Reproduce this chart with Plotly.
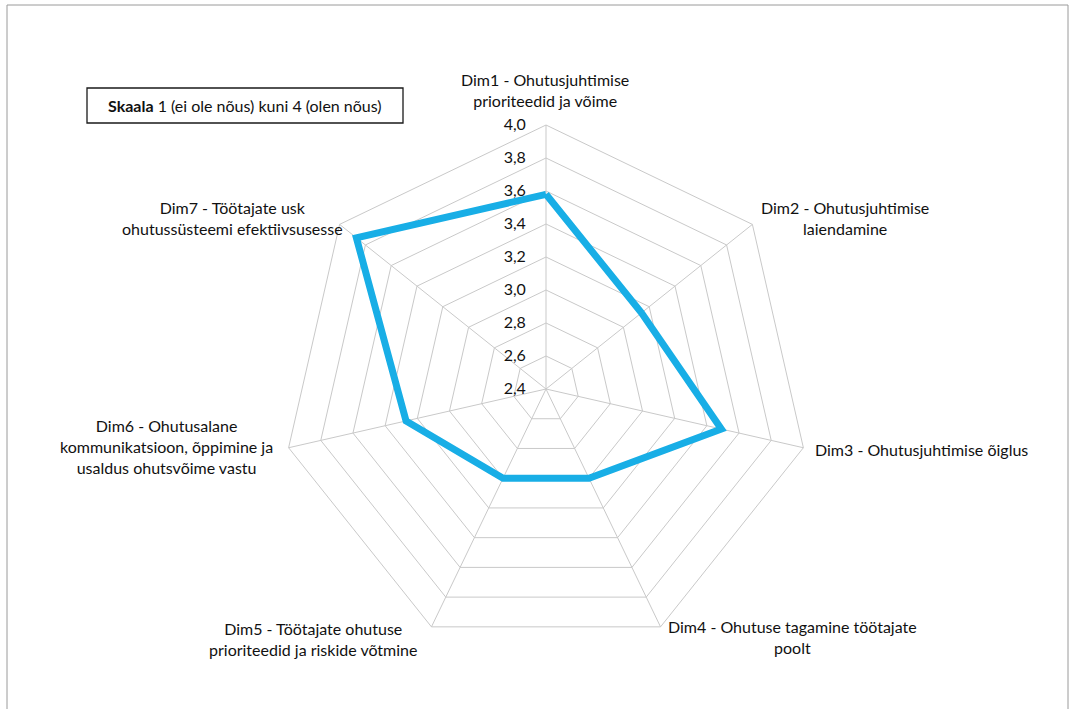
import plotly.graph_objects as go

W, H = 1073, 709

# ---- data ----
categories = [
    "Dim1 - Ohutusjuhtimise<br>prioriteedid ja võime",
    "Dim2 - Ohutusjuhtimise<br>laiendamine",
    "Dim3 - Ohutusjuhtimise õiglus",
    "Dim4 - Ohutuse tagamine töötajate<br>poolt",
    "Dim5 - Töötajate ohutuse<br>prioriteedid ja riskide võtmine",
    "Dim6 - Ohutusalane<br>kommunikatsioon, õppimine ja<br>usaldus ohutsvõime vastu",
    "Dim7 - Töötajate usk<br>ohutussüsteemi efektiivsusesse",
]
values = [3.58, 3.14, 3.49, 3.00, 3.00, 3.27, 3.87]
tick_values = [2.4, 2.6, 2.8, 3.0, 3.2, 3.4, 3.6, 3.8, 4.0]
tick_labels = ["2,4", "2,6", "2,8", "3,0", "3,2", "3,4", "3,6", "3,8", "4,0"]

FONT = "Lato"
FS = 16
TXT = "#111111"
GRID = "#c9c9c9"

# polar geometry (pixels)
cx, cy, R = 546, 389, 264

fig = go.Figure()
fig.add_trace(go.Scatterpolar(
    r=values + values[:1],
    theta=[f"c{i}" for i in range(len(categories))] + ["c0"],
    mode="lines",
    line=dict(color="#18aee6", width=7),
    showlegend=False,
    hoverinfo="skip",
))

fig.update_layout(
    width=W, height=H,
    margin=dict(l=0, r=0, t=0, b=0),
    paper_bgcolor="white",
    plot_bgcolor="white",
    font=dict(family=FONT, size=FS, color=TXT),
    polar=dict(
        domain=dict(x=[(cx - R) / W, (cx + R) / W],
                    y=[1 - (cy + R) / H, 1 - (cy - R) / H]),
        gridshape="linear",
        bgcolor="white",
        angularaxis=dict(
            type="category",
            categoryarray=[f"c{i}" for i in range(len(categories))],
            rotation=90,
            direction="clockwise",
            showticklabels=False,
            ticks="",
            showline=True,
            linecolor=GRID,
            linewidth=1,
            gridcolor=GRID,
            gridwidth=1,
        ),
        radialaxis=dict(
            range=[2.4, 4.0],
            tickvals=tick_values,
            ticktext=tick_labels,
            angle=90,
            side="counterclockwise",
            tickangle=90,
            showline=False,
            ticks="outside",
            ticklen=14,
            tickcolor="rgba(0,0,0,0)",
            gridcolor=GRID,
            gridwidth=1,
            tickfont=dict(family=FONT, size=FS, color=TXT),
        ),
    ),
)

# category label placement (pixel centres, anchors)
label_pos = [
    (545, 90, "center", "middle"),
    (845, 218, "center", "middle"),
    (813, 449, "left", "middle"),
    (792, 637, "center", "middle"),
    (313, 639, "center", "middle"),
    (166, 446, "center", "middle"),
    (232, 218, "center", "middle"),
]
for text, (px, py, xa, ya) in zip(categories, label_pos):
    fig.add_annotation(
        x=px / W, y=1 - py / H, xref="paper", yref="paper",
        text=text, showarrow=False, xanchor=xa, yanchor=ya, align="center",
        font=dict(family=FONT, size=FS, color=TXT),
    )

# scale box
fig.add_annotation(
    x=245 / W, y=1 - 105 / H, xref="paper", yref="paper",
    text="<b>Skaala</b> 1 (ei ole nõus) kuni 4 (olen nõus)",
    showarrow=False, xanchor="center", yanchor="middle",
    font=dict(family=FONT, size=FS, color=TXT),
)
fig.add_shape(type="rect", xref="paper", yref="paper",
              x0=87 / W, x1=403 / W, y0=1 - 123 / H, y1=1 - 88 / H,
              line=dict(color="#1a1a1a", width=1.3), fillcolor="rgba(0,0,0,0)")

# outer frame
fig.add_shape(type="rect", xref="paper", yref="paper",
              x0=7 / W, x1=1068 / W, y0=-0.05, y1=1 - 5 / H,
              line=dict(color="#9a9a9a", width=1), fillcolor="rgba(0,0,0,0)")

fig.write_html("out.html")
